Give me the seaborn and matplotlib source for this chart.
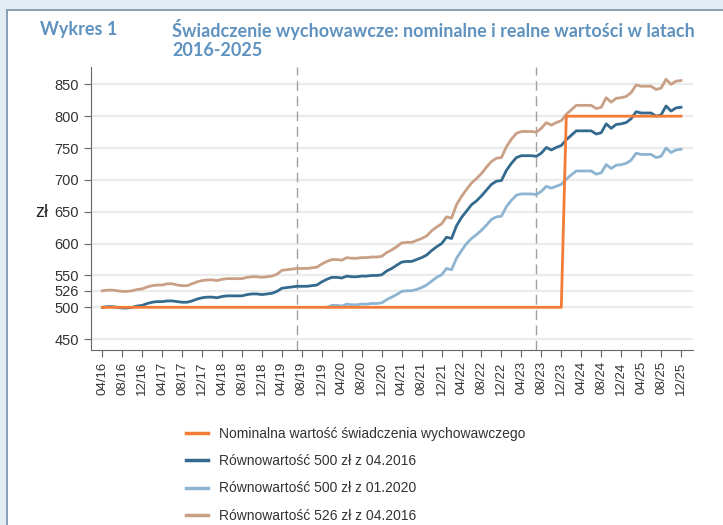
import numpy as np
import pandas as pd
import matplotlib
matplotlib.use("Agg")
import matplotlib.pyplot as plt
from matplotlib.patches import Rectangle
import seaborn as sns

# === Data ===
months = pd.period_range("2016-04", "2025-12", freq="M")
tick_labels = [m.strftime("%m/%y") for m in months[::4]]

nominal = [500] * 93 + [800] * 24   # 800 zł od 01.2024

real_500_2016 = [
    500, 501, 501, 500, 499, 499, 500, 502, 503, 506, 508, 509,
    509, 510, 510, 509, 508, 508, 510, 513, 515, 516, 516, 515,
    517, 518, 518, 518, 518, 520, 521, 521, 520, 521, 522, 525,
    530, 531, 532, 533, 533, 533, 534, 535, 540, 544, 547, 547,
    546, 549, 548, 548, 549, 549, 550, 550, 551, 557, 561, 566,
    571, 572, 572, 575, 578, 582, 589, 595, 600, 610, 608, 628,
    641, 651, 661, 667, 675, 684, 693, 698, 699, 715, 726, 735,
    738, 738, 738, 737, 742, 751, 747, 751, 754, 763, 770, 777,
    777, 777, 777, 772, 774, 788, 781, 787, 788, 790, 796, 807,
    805, 805, 805, 800, 802, 816, 808, 813, 814,
]

# starts 01.2020
real_500_2020 = [
    500, 503, 503, 502, 505, 504, 504, 505, 505, 506, 506, 507,
    512, 516, 520, 525, 526, 526, 528, 531, 535, 541, 547, 551,
    561, 559, 577, 589, 600, 608, 614, 621, 629, 638, 642, 643,
    658, 668, 676, 678, 678, 678, 677, 682, 690, 687, 690, 693,
    701, 708, 714, 714, 714, 714, 709, 711, 724, 718, 723, 724,
    726, 731, 742, 740, 740, 740, 735, 737, 750, 743, 747, 748,
]

real_526_2016 = [
    526, 527, 527, 526, 525, 525, 526, 528, 529, 532, 534, 535,
    535, 537, 537, 535, 534, 534, 537, 540, 542, 543, 543, 542,
    544, 545, 545, 545, 545, 547, 548, 548, 547, 548, 549, 552,
    558, 559, 560, 561, 561, 561, 562, 563, 568, 572, 575, 575,
    574, 578, 577, 577, 578, 578, 579, 579, 580, 586, 590, 595,
    601, 602, 602, 605, 608, 612, 620, 626, 631, 642, 640, 661,
    674, 685, 695, 702, 710, 720, 729, 734, 735, 752, 764, 773,
    776, 776, 776, 775, 781, 790, 786, 790, 793, 803, 810, 817,
    817, 817, 817, 812, 814, 829, 822, 828, 829, 831, 837, 849,
    847, 847, 847, 842, 844, 858, 850, 855, 856,
]

labels = ["Nominalna wartość świadczenia wychowawczego",
          "Równowartość 500 zł z 04.2016",
          "Równowartość 500 zł z 01.2020",
          "Równowartość 526 zł z 04.2016"]
colors = ["#F47B35", "#336A8E", "#8DB4D1", "#C9A086"]
yticks = [450, 500, 526, 550, 600, 650, 700, 750, 800, 850]
vlines = ["2019-07", "2023-07"]

idx = np.arange(len(months))
start_2020 = list(months).index(pd.Period("2020-01", freq="M"))

# === Figure ===
fig = plt.figure(figsize=(7.23, 5.25), dpi=100, facecolor="#E4ECF4")
fig.patches.append(Rectangle((7 / 723, -0.05), 1.0, 1 - 10 / 525 + 0.05,
                             transform=fig.transFigure, facecolor="white",
                             edgecolor="#7F98B1", linewidth=1.3, zorder=-10))

ax = fig.add_axes([91 / 723, 1 - 349.5 / 525, 601.5 / 723, 282.5 / 525])
ax.set_facecolor("white")

for v in yticks:
    ax.axhline(v, color="#EBEBEB", lw=1.6, zorder=0)
for v in vlines:
    xv = list(months).index(pd.Period(v, freq="M"))
    ax.axvline(xv, color="#A0A0A0", lw=1.0, ls=(0, (7, 4)), zorder=1)

sns.lineplot(x=idx, y=real_526_2016, color=colors[3], lw=2.0, ax=ax, zorder=2)
sns.lineplot(x=idx, y=real_500_2016, color=colors[1], lw=2.0, ax=ax, zorder=3)
sns.lineplot(x=idx[start_2020:], y=real_500_2020, color=colors[2], lw=2.0, ax=ax, zorder=3)
sns.lineplot(x=idx, y=nominal, color=colors[0], lw=2.0, ax=ax, zorder=4)

ax.set_xlim(-2.27, 118.3)
ax.set_ylim(433.8, 877.2)
ax.set_yticks(yticks)
ax.set_xticks(idx[::4])
ax.set_xticklabels(tick_labels, rotation=90)
ax.tick_params(axis="both", colors="#666666", labelcolor="#333333",
               length=5, width=0.8)
ax.tick_params(axis="y", labelsize=10.5)
ax.tick_params(axis="x", labelsize=9.5)
for s in ["top", "right"]:
    ax.spines[s].set_visible(False)
for s in ["left", "bottom"]:
    ax.spines[s].set_color("#666666")
    ax.spines[s].set_linewidth(0.8)
ax.set_xlabel("")
ax.set_ylabel("zł", rotation=0, fontsize=13, color="#222222", va="center")
ax.yaxis.set_label_coords(-0.082, 0.485)

for t in ax.get_xticklabels() + ax.get_yticklabels():
    t.set_family("Liberation Sans")
ax.yaxis.label.set_family("Liberation Sans")

# title
fig.text(40 / 723, 1 - 30 / 525, "Wykres 1", family="Lato", weight="bold",
         fontsize=13, color="#5F92BF", va="center")
fig.text(172 / 723, 1 - 30 / 525,
         "Świadczenie wychowawcze: nominalne i realne wartości w latach",
         family="Lato", weight="bold", fontsize=13, color="#5F92BF", va="center")
fig.text(172 / 723, 1 - 50 / 525, "2016-2025", family="Lato", weight="bold",
         fontsize=13, color="#5F92BF", va="center")

# legend
handles = [plt.Line2D([], [], color=c, lw=2.5) for c in colors]
fig.legend(handles, labels, loc="upper left",
           bbox_to_anchor=(186 / 723, 1 - 427 / 525), frameon=False,
           handlelength=1.6, handletextpad=0.8, labelspacing=0.95,
           borderpad=0, borderaxespad=0,
           prop={"family": "Liberation Sans", "size": 10}, labelcolor="#333333")

plt.savefig("out.png", dpi=100, facecolor=fig.get_facecolor())
